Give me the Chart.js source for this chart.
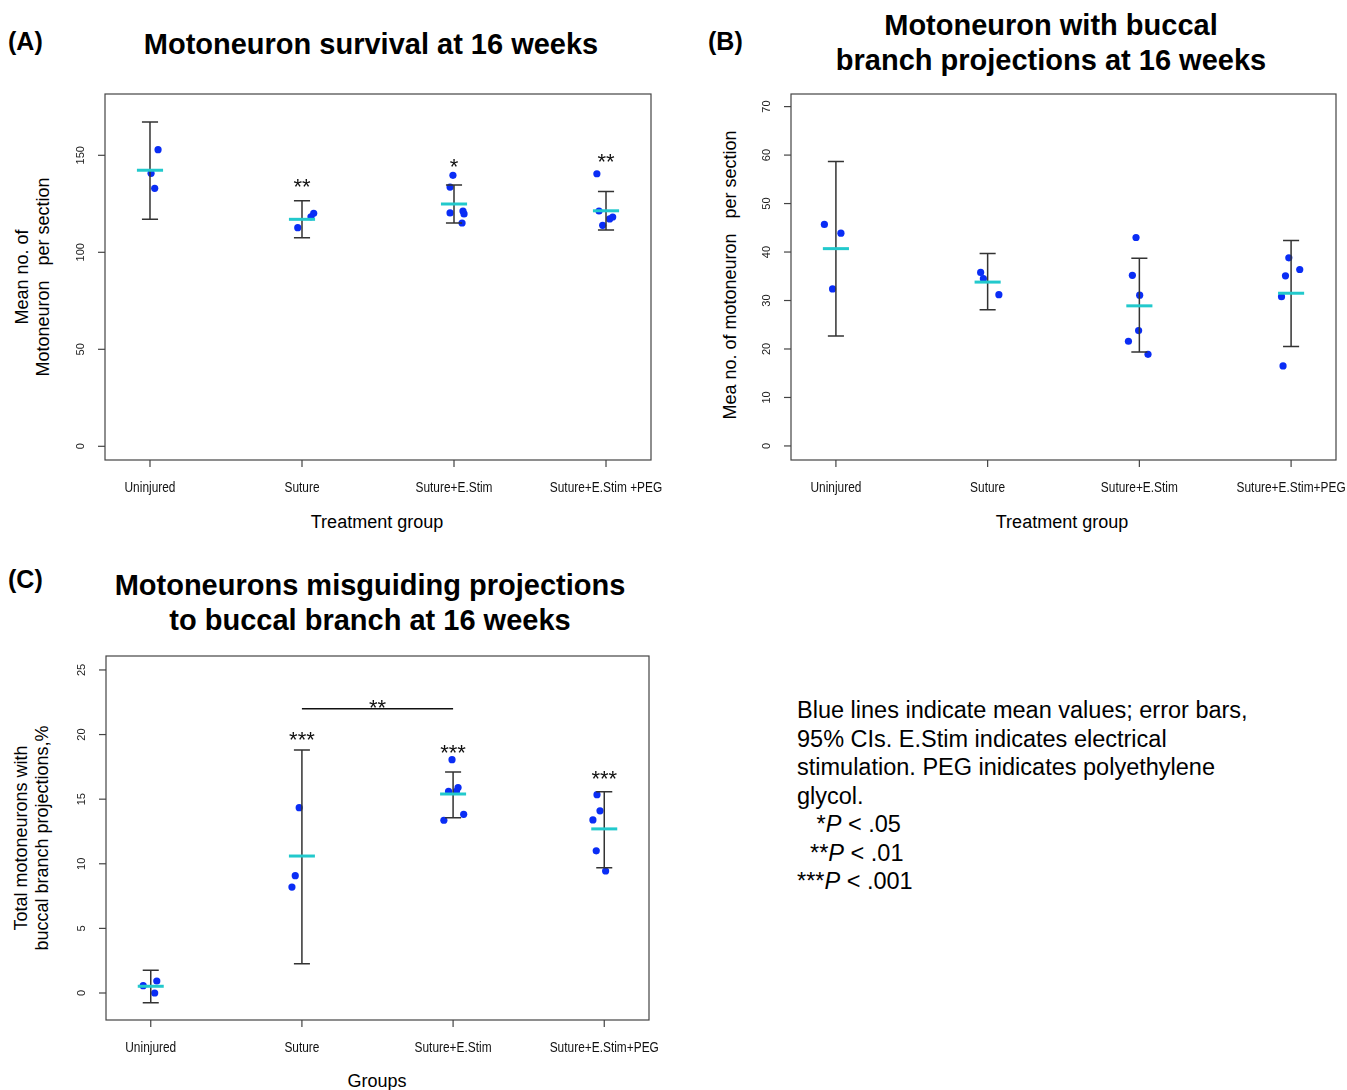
<!DOCTYPE html>
<html>
<head>
<meta charset="utf-8">
<script src="https://cdn.jsdelivr.net/npm/chart.js@4.4.1/dist/chart.umd.min.js"></script>
<style>
  html, body { margin:0; padding:0; background:#fff; }
  body { width:1347px; height:1090px; position:relative; overflow:hidden; font-family:"Liberation Sans", Arial, sans-serif; color:#000; }
  .abs { position:absolute; white-space:nowrap; }
  .panel { font-weight:bold; font-size:25px; line-height:25px; }
  .title { font-weight:bold; font-size:29px; line-height:35px; text-align:center; transform:translateX(-50%); }
  .axt { font-size:18px; line-height:18px; transform:translate(-50%,-50%); }
  .ylab { font-size:18px; line-height:21px; text-align:center; transform:translate(-50%,-50%) rotate(-90deg); }
  .note { font-size:23.5px; line-height:28.5px; }
  .wrap { position:absolute; }
</style>
</head>
<body>
<div class="abs panel" style="left:8px; top:29px;">(A)</div>
<div class="abs title" style="left:371px; top:27px;">Motoneuron survival at 16 weeks</div>
<div class="abs panel" style="left:708px; top:29px;">(B)</div>
<div class="abs title" style="left:1051px; top:8px;">Motoneuron with buccal<br>branch projections at 16 weeks</div>
<div class="abs panel" style="left:8px; top:567px;">(C)</div>
<div class="abs title" style="left:370px; top:568px;">Motoneurons misguiding projections<br>to buccal branch at 16 weeks</div>

<div class="abs ylab" style="left:33px; top:277px;">Mean no. of<br>Motoneuron&nbsp;&nbsp;&nbsp;per section</div>
<div class="abs ylab" style="left:730px; top:275px;">Mea no. of motoneuron&nbsp;&nbsp;&nbsp;per section</div>
<div class="abs ylab" style="left:32px; top:838px;">Total motoneurons with<br>buccal branch projections,%</div>

<div class="abs axt" style="left:377px; top:522px;">Treatment group</div>
<div class="abs axt" style="left:1062px; top:522px;">Treatment group</div>
<div class="abs axt" style="left:377px; top:1081px;">Groups</div>

<div class="abs note" style="left:797px; top:696px;">Blue lines indicate mean values; error bars,<br>95% CIs. E.Stim indicates electrical<br>stimulation. PEG inidicates polyethylene<br>glycol.<br>&nbsp;&nbsp;&nbsp;*<i>P</i> &lt; .05<br>&nbsp;&nbsp;**<i>P</i> &lt; .01<br>***<i>P</i> &lt; .001</div>

<div class="wrap" style="left:0px; top:0px;"><canvas id="cA" width="670" height="545"></canvas></div>
<div class="wrap" style="left:680px; top:0px;"><canvas id="cB" width="667" height="545"></canvas></div>
<div class="wrap" style="left:0px; top:560px;"><canvas id="cC" width="670" height="530"></canvas></div>

<script>
// ---------- DATA ----------
const categoriesA = ['Uninjured', 'Suture', 'Suture+E.Stim', 'Suture+E.Stim +PEG'];
const categoriesB = ['Uninjured', 'Suture', 'Suture+E.Stim', 'Suture+E.Stim+PEG'];
const categoriesC = ['Uninjured', 'Suture', 'Suture+E.Stim', 'Suture+E.Stim+PEG'];

// Panel A: motoneuron survival
const valuesA = [[152.9, 140.7, 133.0], [112.7, 118.3, 120.1], [139.7, 133.6, 120.3, 121.3, 119.8, 115.1], [140.5, 121.3, 117.2, 118.2, 113.9]];
const jitterA = [[0.053, 0.007, 0.031], [-0.028, 0.059, 0.077], [-0.007, -0.026, -0.026, 0.059, 0.066, 0.053], [-0.06, -0.046, 0.024, 0.044, -0.022]];
const meanA = [142.3, 117.0, 124.9, 121.4];
const ciLowA = [117.0, 107.5, 115.1, 111.5];
const ciHighA = [167.2, 126.6, 134.7, 131.4];
const starsA = ['', '**', '*', '**'];
const starYA = [null, 136.4, 147.0, 149.3];
const yTicksA = [0, 50, 100, 150];

// Panel B: buccal branch projections
const valuesB = [[45.7, 43.9, 32.4], [35.8, 34.5, 31.2], [43.0, 35.2, 31.1, 23.8, 21.6, 18.9], [38.8, 36.4, 35.1, 30.8, 16.5]];
const jitterB = [[-0.076, 0.033, -0.022], [-0.046, -0.028, 0.074], [-0.022, -0.046, 0.002, -0.005, -0.072, 0.057], [-0.015, 0.057, -0.037, -0.063, -0.053]];
const meanB = [40.7, 33.8, 28.9, 31.5];
const ciLowB = [22.7, 28.1, 19.4, 20.5];
const ciHighB = [58.7, 39.7, 38.7, 42.4];
const starsB = ['', '', '', ''];
const starYB = [null, null, null, null];
const yTicksB = [0, 10, 20, 30, 40, 50, 60, 70];

// Panel C: misguided projections (%)
const valuesC = [[0.57, 0.93, 0.0], [14.34, 9.08, 8.2], [18.06, 15.6, 15.6, 15.9, 13.83, 13.37], [15.35, 14.1, 13.39, 11.0, 9.44]];
const jitterC = [[-0.05, 0.04, 0.026], [-0.018, -0.044, -0.066], [-0.007, -0.03, 0.022, 0.033, 0.07, -0.061], [-0.048, -0.028, -0.075, -0.053, 0.009]];
const meanC = [0.52, 10.6, 15.4, 12.7];
const ciLowC = [-0.75, 2.27, 13.57, 9.7];
const ciHighC = [1.76, 18.8, 17.1, 15.58];
const starsC = ['', '***', '***', '***'];
const starYC = [null, 19.97, 19.0, 16.97];
const yTicksC = [0, 5, 10, 15, 20, 25];
const bracketC = { from: 2, to: 3, y: 22.0, label: '**', labelY: 22.45 };

// ---------- PLUGIN: R-style axes, error bars, means, stars ----------
const rPlot = {
  id: 'rPlot',
  afterDatasetsDraw(chart) {
    const o = chart.options.plugins.rPlot;
    const ctx = chart.ctx, xs = chart.scales.x, ys = chart.scales.y, a = chart.chartArea;
    ctx.save();
    // error bars
    ctx.strokeStyle = '#333'; ctx.lineWidth = 1.5; ctx.lineCap = 'butt';
    o.lo.forEach((lo, i) => {
      const c = i + 1, hi = o.hi[i];
      const x = xs.getPixelForValue(c);
      const yl = ys.getPixelForValue(lo), yh = ys.getPixelForValue(hi);
      const xl = xs.getPixelForValue(c - 0.053), xr = xs.getPixelForValue(c + 0.053);
      ctx.beginPath();
      ctx.moveTo(x, yl); ctx.lineTo(x, yh);
      ctx.moveTo(xl, yl); ctx.lineTo(xr, yl);
      ctx.moveTo(xl, yh); ctx.lineTo(xr, yh);
      ctx.stroke();
    });
    // mean lines
    ctx.strokeStyle = '#22c9cc'; ctx.lineWidth = 3;
    o.means.forEach((m, i) => {
      const c = i + 1, y = ys.getPixelForValue(m);
      ctx.beginPath();
      ctx.moveTo(xs.getPixelForValue(c - 0.086), y);
      ctx.lineTo(xs.getPixelForValue(c + 0.086), y);
      ctx.stroke();
    });
    // stars
    const fs = 22;
    ctx.fillStyle = '#111'; ctx.font = fs + 'px "Liberation Sans", Arial, sans-serif';
    ctx.textAlign = 'center'; ctx.textBaseline = 'alphabetic';
    o.stars.forEach((s, i) => {
      if (!s) return;
      ctx.fillText(s, xs.getPixelForValue(i + 1), ys.getPixelForValue(o.starY[i]) + 0.57 * fs);
    });
    if (o.bracket) {
      const b = o.bracket, y = ys.getPixelForValue(b.y);
      ctx.strokeStyle = '#111'; ctx.lineWidth = 1.5;
      ctx.beginPath();
      ctx.moveTo(xs.getPixelForValue(b.from), y); ctx.lineTo(xs.getPixelForValue(b.to), y);
      ctx.stroke();
      ctx.fillText(b.label, xs.getPixelForValue((b.from + b.to) / 2), ys.getPixelForValue(b.labelY) + 0.57 * fs);
    }
    // box
    ctx.strokeStyle = '#444'; ctx.lineWidth = 1.2;
    ctx.strokeRect(a.left, a.top, a.right - a.left, a.bottom - a.top);
    // y ticks
    ctx.fillStyle = '#222';
    ctx.font = '11px "Liberation Sans", Arial, sans-serif';
    ctx.textAlign = 'center'; ctx.textBaseline = 'middle';
    o.yTicks.forEach(t => {
      const y = ys.getPixelForValue(t);
      ctx.beginPath(); ctx.moveTo(a.left - 7, y); ctx.lineTo(a.left, y); ctx.stroke();
      ctx.save(); ctx.translate(a.left - 24, y); ctx.rotate(-Math.PI / 2);
      ctx.fillText(String(t), 0, 0); ctx.restore();
    });
    // x ticks (condensed, like R's narrow Helvetica)
    ctx.font = '14px "Liberation Sans", Arial, sans-serif';
    ctx.fillStyle = '#111';
    o.cats.forEach((lab, i) => {
      const x = xs.getPixelForValue(i + 1);
      ctx.beginPath(); ctx.moveTo(x, a.bottom); ctx.lineTo(x, a.bottom + 7); ctx.stroke();
      ctx.save(); ctx.translate(x, a.bottom + 28); ctx.scale(0.85, 1);
      ctx.fillText(lab, 0, 0); ctx.restore();
    });
    ctx.restore();
  }
};

function pointsFrom(vals, jit) {
  const out = [];
  vals.forEach((arr, i) => arr.forEach((v, j) => out.push({ x: i + 1 + jit[i][j], y: v })));
  return out;
}

function makeChart(id, pad, yMin, yMax, vals, jit, extra) {
  return new Chart(document.getElementById(id), {
    type: 'scatter',
    data: { datasets: [{ data: pointsFrom(vals, jit), backgroundColor: '#0a2df5', borderWidth: 0, pointRadius: 3.6, pointHoverRadius: 3.6 }] },
    options: {
      responsive: false, animation: false, devicePixelRatio: 1,
      layout: { padding: pad },
      scales: {
        x: { type: 'linear', min: 0.704, max: 4.296, display: false },
        y: { type: 'linear', min: yMin, max: yMax, display: false }
      },
      plugins: { legend: { display: false }, tooltip: { enabled: false }, rPlot: extra }
    },
    plugins: [rPlot]
  });
}

makeChart('cA', { left: 105, top: 94, right: 19, bottom: 85 }, -7.06, 181.6, valuesA, jitterA,
  { cats: categoriesA, means: meanA, lo: ciLowA, hi: ciHighA, stars: starsA, starY: starYA, yTicks: yTicksA });
makeChart('cB', { left: 111, top: 94, right: 11, bottom: 85 }, -2.9, 72.6, valuesB, jitterB,
  { cats: categoriesB, means: meanB, lo: ciLowB, hi: ciHighB, stars: starsB, starY: starYB, yTicks: yTicksB });
makeChart('cC', { left: 106, top: 96, right: 21, bottom: 70 }, -2.09, 26.08, valuesC, jitterC,
  { cats: categoriesC, means: meanC, lo: ciLowC, hi: ciHighC, stars: starsC, starY: starYC, yTicks: yTicksC, bracket: bracketC });
</script>
</body>
</html>
